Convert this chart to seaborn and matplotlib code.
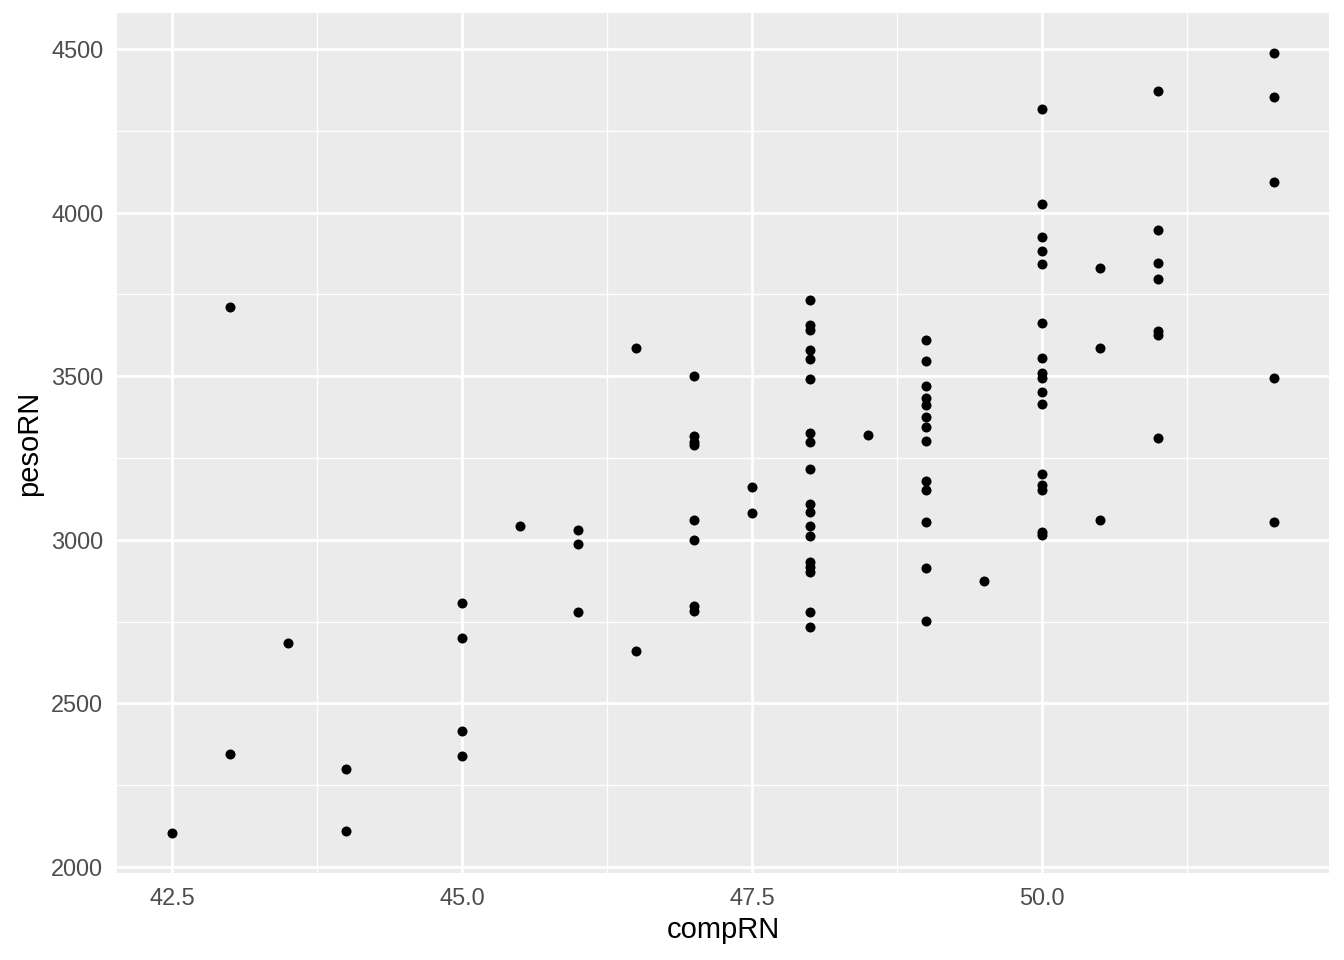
import numpy as np
import pandas as pd
import matplotlib.pyplot as plt
import seaborn as sns

# values
compRN = [42.5, 43, 43, 43.5, 44, 44,
          45, 45, 45, 45, 45.5,
          46, 46, 46, 46.5, 46.5,
          47, 47, 47, 47, 47, 47, 47, 47,
          47.5, 47.5,
          48, 48, 48, 48, 48, 48, 48, 48, 48, 48, 48, 48, 48, 48, 48, 48, 48, 48,
          48.5,
          49, 49, 49, 49, 49, 49, 49, 49, 49, 49, 49, 49, 49,
          49.5,
          50, 50, 50, 50, 50, 50, 50, 50, 50, 50, 50, 50, 50, 50, 50, 50,
          50.5, 50.5, 50.5,
          51, 51, 51, 51, 51, 51, 51,
          52, 52, 52, 52, 52]
pesoRN = [2104, 3711, 2345, 2685, 2300, 2110,
          2807, 2700, 2416, 2339, 3042,
          3030, 2987, 2779, 3586, 2660,
          3500, 3317, 3300, 3290, 3060, 2999, 2798, 2782,
          3161, 3082,
          3733, 3655, 3640, 3580, 3552, 3491, 3325, 3298, 3216, 3109, 3085, 3042,
          3012, 2932, 2917, 2902, 2779, 2733,
          3320,
          3610, 3547, 3471, 3432, 3412, 3374, 3344, 3303, 3181, 3152, 3055, 2913, 2752,
          2874,
          4316, 4026, 3924, 3883, 3844, 3663, 3555, 3510, 3494, 3453, 3414, 3201,
          3167, 3152, 3025, 3015,
          3831, 3586, 3060,
          4372, 3947, 3847, 3797, 3638, 3626, 3310,
          4488, 4354, 4092, 3493, 3053]

df = pd.DataFrame({'compRN': compRN, 'pesoRN': pesoRN})

sns.set_style('darkgrid', {'axes.facecolor': '#EBEBEB', 'grid.color': 'white'})
plt.rcParams['font.family'] = ['Liberation Sans', 'DejaVu Sans']

fig = plt.figure(figsize=(13.44, 9.6), dpi=100)
ax = fig.add_axes([0.087, 0.0906, 0.902, 0.896])

sns.scatterplot(data=df, x='compRN', y='pesoRN', ax=ax, color='black',
                s=52, linewidth=0, zorder=3)

ax.set_xlim(42.025, 52.475)
ax.set_ylim(1982, 4610)
ax.set_xticks([42.5, 45.0, 47.5, 50.0])
ax.set_xticklabels(['42.5', '45.0', '47.5', '50.0'])
ax.set_yticks([2000, 2500, 3000, 3500, 4000, 4500])
ax.set_xticks([43.75, 46.25, 48.75, 51.25], minor=True)
ax.set_yticks([2250, 2750, 3250, 3750, 4250], minor=True)

ax.grid(which='major', color='white', linewidth=2.0)
ax.grid(which='minor', color='white', linewidth=1.0)
ax.set_axisbelow(True)
for s in ax.spines.values():
    s.set_visible(False)

ax.tick_params(which='major', length=5.3, width=1.4, color='#333333',
               labelsize=16.9, labelcolor='#4D4D4D', pad=4.5)
ax.tick_params(which='minor', length=0)
ax.set_xlabel('compRN', fontsize=21, color='black', labelpad=4.5)
ax.set_ylabel('pesoRN', fontsize=21, color='black', labelpad=6)

fig.savefig('out.png', dpi=100)
